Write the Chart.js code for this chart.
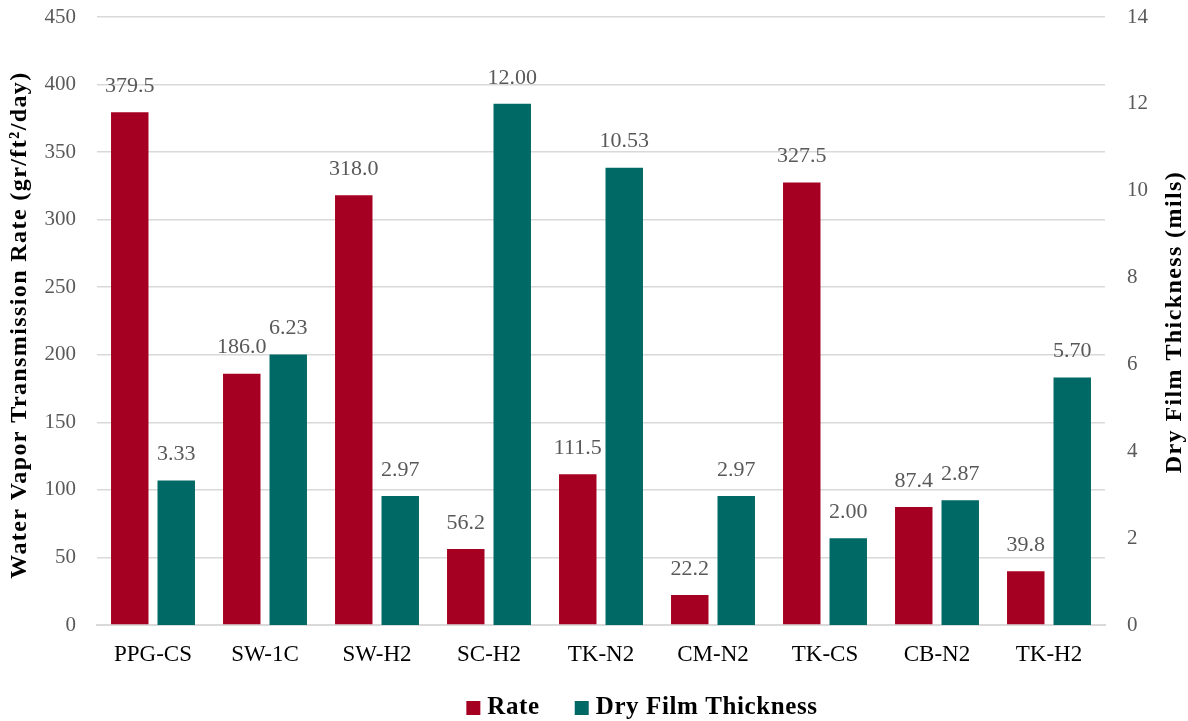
<!DOCTYPE html>
<html>
<head>
<meta charset="utf-8">
<script src="https://cdn.jsdelivr.net/npm/chart.js@4"></script>
<style>
  html, body { margin: 0; padding: 0; background: #fff; }
  #wrap { width: 1188px; height: 721px; }
</style>
</head>
<body>
<div id="wrap"><canvas id="c" width="1188" height="721"></canvas></div>
<script>
const categories = ['PPG-CS', 'SW-1C', 'SW-H2', 'SC-H2', 'TK-N2', 'CM-N2', 'TK-CS', 'CB-N2', 'TK-H2'];
const rateValues = [379.5, 186.0, 318.0, 56.2, 111.5, 22.2, 327.5, 87.4, 39.8];
const thicknessValues = [3.33, 6.23, 2.97, 12.00, 10.53, 2.97, 2.00, 2.87, 5.70];
const rateDecimals = 1;
const thicknessDecimals = 2;
const leftTitle = 'Water Vapor Transmission Rate (gr/ft\u00b2/day)';
const rightTitleText = 'Dry Film Thickness (mils)';

const SERIF = '"Liberation Serif", "DejaVu Serif", serif';
const RED = '#A50021';
const TEAL = '#006865';

// value labels above each bar
const valueLabels = {
  id: 'valueLabels',
  afterDatasetsDraw(chart) {
    const ctx = chart.ctx;
    ctx.save();
    ctx.font = '22px ' + SERIF;
    ctx.fillStyle = '#595959';
    ctx.textAlign = 'center';
    ctx.textBaseline = 'middle';
    chart.data.datasets.forEach((ds, i) => {
      const meta = chart.getDatasetMeta(i);
      const dec = i === 0 ? rateDecimals : thicknessDecimals;
      meta.data.forEach((bar, j) => {
        ctx.fillText(ds.data[j].toFixed(dec), bar.x, bar.y - 26);
      });
    });
    ctx.restore();
  }
};

// both axis titles (reading bottom to top) and the legend
const decorations = {
  id: 'decorations',
  afterDraw(chart) {
    const ctx = chart.ctx;
    const area = chart.chartArea;
    const midY = (area.top + area.bottom) / 2;
    ctx.save();
    ctx.font = 'bold 24px ' + SERIF;
    ctx.letterSpacing = '1.4px';
    ctx.fillStyle = '#000';
    ctx.textAlign = 'center';
    ctx.textBaseline = 'middle';
    [[20, midY + 4, leftTitle], [1175, midY + 1, rightTitleText]].forEach(([x, y, t]) => {
      ctx.save();
      ctx.translate(x, y);
      ctx.rotate(-Math.PI / 2);
      ctx.fillText(t, 0, 0);
      ctx.restore();
    });

    // legend
    ctx.font = 'bold 25px ' + SERIF;
    ctx.letterSpacing = '0.6px';
    ctx.textAlign = 'left';
    const box = 14, boxGap = 7, itemGap = 35;
    const items = chart.data.datasets.map(d => ({ label: d.label, color: d.backgroundColor, w: ctx.measureText(d.label).width }));
    const total = items.reduce((s, it) => s + box + boxGap + it.w, 0) + itemGap * (items.length - 1);
    let x = 642 - total / 2;
    const y = 708;
    items.forEach(it => {
      ctx.fillStyle = it.color;
      ctx.fillRect(x, y - box / 2, box, box);
      ctx.fillStyle = '#000';
      ctx.fillText(it.label, x + box + boxGap, y);
      x += box + boxGap + it.w + itemGap;
    });
    ctx.restore();
  }
};

function fixVertical(scale, width) {
  scale.width = width;
  scale.paddingTop = 0;
  scale.paddingBottom = 0;
}

new Chart(document.getElementById('c'), {
  type: 'bar',
  data: {
    labels: categories,
    datasets: [
      { label: 'Rate', data: rateValues, backgroundColor: RED, yAxisID: 'y',
        categoryPercentage: 0.83, barPercentage: 0.806 },
      { label: 'Dry Film Thickness', data: thicknessValues, backgroundColor: TEAL, yAxisID: 'y2',
        categoryPercentage: 0.83, barPercentage: 0.806 }
    ]
  },
  options: {
    responsive: false,
    animation: false,
    layout: { padding: { left: 0, right: 0, top: 17, bottom: 0 } },
    plugins: {
      legend: { display: false },
      tooltip: { enabled: false }
    },
    scales: {
      x: {
        grid: { display: false },
        border: { display: true, color: '#d9d9d9', width: 2 },
        ticks: { font: { family: SERIF, size: 23 }, color: '#000', padding: 8 },
        afterFit(scale) { scale.height = 96; scale.paddingLeft = 0; scale.paddingRight = 0; }
      },
      y: {
        position: 'left',
        min: 0, max: 450,
        ticks: { stepSize: 50, font: { family: SERIF, size: 21 }, color: '#595959', padding: 21 },
        grid: { color: '#d9d9d9', lineWidth: 1.5, drawTicks: false },
        border: { display: false },
        afterFit(scale) { fixVertical(scale, 97); }
      },
      y2: {
        position: 'right',
        min: 0, max: 14,
        ticks: { stepSize: 2, font: { family: SERIF, size: 21 }, color: '#595959', padding: 22 },
        grid: { display: false, drawTicks: false },
        border: { display: false },
        afterFit(scale) { fixVertical(scale, 83); }
      }
    }
  },
  plugins: [valueLabels, decorations]
});
</script>
</body>
</html>
